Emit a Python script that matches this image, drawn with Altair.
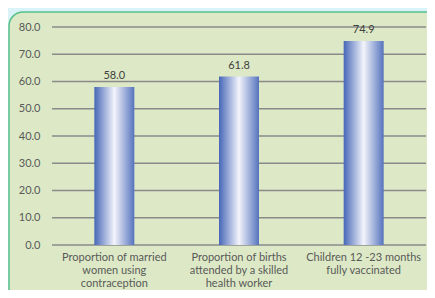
import altair as alt
import pandas as pd

categories = [
    "Proportion of married women using contraception",
    "Proportion of births attended by a skilled health worker",
    "Children 12 -23 months fully vaccinated",
]
label_lines = [
    ["Proportion of married", "women using", "contraception"],
    ["Proportion of births", "attended by a skilled", "health worker"],
    ["Children 12 -23 months", "fully vaccinated"],
]
values = [58.0, 61.8, 74.9]
y_ticks = [0, 10, 20, 30, 40, 50, 60, 70, 80]

df = pd.DataFrame({"cat": categories, "val": values})
ticks_df = pd.DataFrame({"t": y_ticks})
bg_df = pd.DataFrame({"k": [0]})

# build label expression for multi-line labels
expr = "''"
for cat, lines in reversed(list(zip(categories, label_lines))):
    arr = "[" + ",".join("'" + l + "'" for l in lines) + "]"
    expr = f"datum.value == '{cat}' ? {arr} : ({expr})"

FONT = "Lato"
grad = alt.Gradient(
    gradient="linear",
    x1=0, x2=1, y1=0, y2=0,
    stops=[
        alt.GradientStop(offset=0, color="#4667b7"),
        alt.GradientStop(offset=0.5, color="#f3f4fb"),
        alt.GradientStop(offset=1, color="#5573bd"),
    ],
)

x_axis = alt.Axis(
    title=None, domain=False, ticks=False, labelAngle=0, zindex=1,
    labelExpr=expr, labelFont=FONT, labelFontSize=11,
    labelColor="#595959", labelPadding=6, labelLineHeight=13,
    labelBaseline="top", labelLimit=200,
)
x_scale = alt.Scale(domain=categories, paddingInner=0.68, paddingOuter=0.34)
y_axis = alt.Axis(
    title=None, values=y_ticks, format=".1f", domain=False, ticks=False,
    grid=False, zindex=1, labelFont=FONT, labelFontSize=11,
    labelColor="#595959", labelPadding=12,
)
y_scale = alt.Scale(domain=[0, 80], nice=False)

background = alt.Chart(bg_df).mark_rect(
    fill="#dde9c6", stroke="#55c08a", strokeWidth=1.5, cornerRadius=14
).encode(
    x=alt.value(-43), x2=alt.value(420), y=alt.value(-15), y2=alt.value(300)
)

rules = alt.Chart(ticks_df).mark_rule(color="#8a8a8a", strokeWidth=1.5).encode(
    y=alt.Y("t:Q", scale=y_scale, axis=y_axis)
)

bars = alt.Chart(df).mark_bar(size=40, color=grad).encode(
    x=alt.X("cat:N", sort=categories, scale=x_scale, axis=x_axis),
    y=alt.Y("val:Q", scale=y_scale, axis=y_axis),
)

text = alt.Chart(df).mark_text(
    font=FONT, fontSize=11, color="#404040", baseline="bottom", dy=-6
).encode(
    x=alt.X("cat:N", sort=categories, scale=x_scale, axis=x_axis),
    y=alt.Y("val:Q", scale=y_scale, axis=y_axis),
    text=alt.Text("val:Q", format=".1f"),
)

chart = alt.layer(background, rules, bars, text).properties(
    width=374,
    height=218,
    autosize=alt.AutoSizeParams(type="none"),
    padding={"left": 44, "top": 19, "right": 1, "bottom": 45},
    background="#d9f3f8",
).configure_view(stroke=None)

chart.save("out.html", embed_options={"renderer": "svg", "actions": False})
